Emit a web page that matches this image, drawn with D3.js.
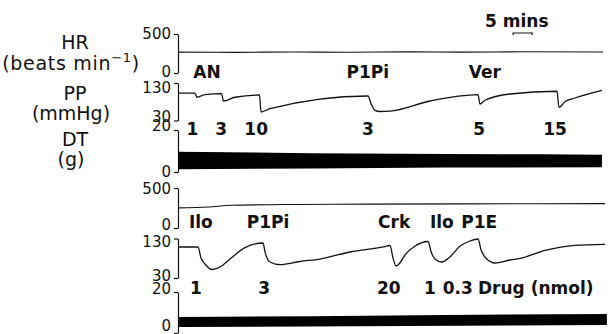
<!DOCTYPE html>
<html>
<head>
<meta charset="utf-8">
<script src="https://cdn.jsdelivr.net/npm/d3@7"></script>
<style>
  body { margin: 0; background: #fff; }
  svg { display: block; }
</style>
</head>
<body>
<svg id="chart" width="613" height="334"></svg>
<script>
const width = 613;
const height = 334;
const font = "'DejaVu Sans', sans-serif";
const ink = '#111';

// time is in minutes from the start of each record, [minutes, value]
const hrTop = [[0, 268], [15, 265], [30, 270], [45, 266], [60, 271], [75, 267], [90, 272], [111.5, 269]];
const ppTop = [
  [0, 103], [4.46, 103], [4.98, 92], [7.08, 99], [11.41, 101.5], [11.93, 82], [14.95, 92],
  [21.38, 98], [21.77, 52.7], [24.13, 61.5], [49.84, 95.3], [50.62, 75], [51.67, 57],
  [52.98, 54], [55.6, 55], [66.1, 82], [78.69, 99], [79.21, 74], [80.52, 84], [87.08, 100.7],
  [99.4, 108], [99.93, 65], [101.5, 80], [104.1, 90], [111.2, 110.5]
];
const dtTopHi = [[0, 9.6], [20, 9.3], [35, 8.9], [70, 8.6], [95, 8.4], [111.2, 8.2]];
const dtTopLo = [[0, 1.3], [35, 1.7], [70, 2.1], [111.2, 2.3]];

const hrBot = [[0, 252], [8, 262], [14, 284], [30, 294], [50, 298], [75, 302], [95, 304], [112, 305]];
const ppBot = [
  [0, 108.5], [5.25, 108.5], [6.03, 80.6], [7.08, 65.4], [8.92, 51.5], [11.02, 57.8],
  [13.64, 78], [17.57, 107], [22.3, 118.6], [22.82, 96], [24.13, 70.5], [26.76, 63.7],
  [32.0, 71.8], [37.25, 78], [45.12, 95.8], [54.3, 109.7], [55.6, 112.3], [56.4, 80.6],
  [57.2, 60.4], [58.2, 68], [59.5, 88.2], [62.2, 111], [65.6, 122.4], [66.4, 95.8],
  [67.4, 78], [69.2, 70.5], [71.3, 83.2], [74.0, 111], [76.6, 123.7], [78.7, 128.7],
  [79.5, 100.9], [81.0, 78], [83.1, 68], [87.1, 75.6], [89.7, 79.4], [96.3, 100],
  [104.1, 112.8], [112, 115.3]
];
const dtBotHi = [[0.3, 7.8], [35, 8.2], [70, 8.8], [112.5, 9.3]];
const dtBotLo = [[0.3, 2.9], [60, 3.4], [112.5, 3.9]];

// drug names and doses (nmol) with the time they are written at
const drugsTop = [['AN', 7.6], ['P1Pi', 49.8], ['Ver', 80.5]];
const dosesTop = [['1', 3.8], ['3', 11.3], ['10', 20.5], ['3', 49.8], ['5', 79.0], ['15', 98.9]];
const drugsBot = [['Ilo', 6.0], ['P1Pi', 23.6], ['Crk', 56.7], ['Ilo', 69.2], ['P1E', 79.0]];
const dosesBot = [['1', 4.7], ['3', 22.6], ['20', 55.3], ['1', 66.1], ['0.3', 73.4]];

const hrDomain = [0, 500];
const ppDomain = [30, 130];
const dtDomain = [0, 20];
const scaleBarMins = 5;

const svg = d3.select('#chart');

const x = d3.scaleLinear().domain([0, 112]).range([178, 605]);

const line = (xs, ys) => d3.line()
  .x(d => xs(d[0]))
  .y(d => ys(d[1]))
  .curve(d3.curveMonotoneX);

const panels = [
  {
    hr: hrTop, pp: ppTop, dtHi: dtTopHi, dtLo: dtTopLo, drugs: drugsTop, doses: dosesTop,
    yHR: [73, 34], yPP: [120.5, 83], yDT: [172, 130],
    nameY: 78, doseY: 135,
    nudge: { hr: [-1, 0], pp: [-3.5, 4.5], dt: [0, -4] }
  },
  {
    hr: hrBot, pp: ppBot, dtHi: dtBotHi, dtLo: dtBotLo, drugs: drugsBot, doses: dosesBot,
    yHR: [228, 188], yPP: [278, 238.5], yDT: [333, 292],
    nameY: 228, doseY: 294,
    nudge: { hr: [-3, 1], pp: [-2, 3.5], dt: [-7, -3] }
  }
];

function drawAxis(scale, nudge) {
  const g = svg.append('g')
    .attr('transform', `translate(${x(0)},0)`)
    .call(d3.axisLeft(scale).tickValues(scale.domain()).tickSize(4).tickSizeOuter(0).tickPadding(3));
  g.select('.domain').attr('stroke', ink).attr('stroke-width', 1.2);
  g.selectAll('.tick line').attr('stroke', ink).attr('stroke-width', 1.2);
  g.selectAll('.tick text')
    .attr('font-family', font)
    .attr('font-size', 15)
    .attr('fill', ink)
    .attr('y', (d, i) => nudge[i]);
}

panels.forEach(p => {
  const yHR = d3.scaleLinear().domain(hrDomain).range(p.yHR);
  const yPP = d3.scaleLinear().domain(ppDomain).range(p.yPP);
  const yDT = d3.scaleLinear().domain(dtDomain).range(p.yDT);

  drawAxis(yHR, p.nudge.hr);
  drawAxis(yPP, p.nudge.pp);
  drawAxis(yDT, p.nudge.dt);

  svg.append('path')
    .attr('d', line(x, yHR)(p.hr))
    .attr('fill', 'none')
    .attr('stroke', ink)
    .attr('stroke-width', 1.1);

  svg.append('path')
    .attr('d', line(x, yPP)(p.pp))
    .attr('fill', 'none')
    .attr('stroke', ink)
    .attr('stroke-width', 1.3);

  // developed tension: the beat-to-beat trace prints as a solid band
  const band = p.dtHi.concat(p.dtLo.slice().reverse());
  svg.append('path')
    .attr('d', d3.line().x(d => x(d[0])).y(d => yDT(d[1]))(band) + 'Z')
    .attr('fill', '#000');

  svg.append('g').selectAll('text')
    .data(p.drugs)
    .join('text')
    .attr('x', d => x(d[1]))
    .attr('y', p.nameY)
    .attr('text-anchor', 'middle')
    .attr('font-family', font)
    .attr('font-weight', 'bold')
    .attr('font-size', 17)
    .attr('fill', ink)
    .text(d => d[0]);

  svg.append('g').selectAll('text')
    .data(p.doses)
    .join('text')
    .attr('x', d => x(d[1]))
    .attr('y', p.doseY)
    .attr('text-anchor', 'middle')
    .attr('font-family', font)
    .attr('font-weight', 'bold')
    .attr('font-size', 17)
    .attr('fill', ink)
    .text(d => d[0]);
});

svg.append('text')
  .attr('x', 478)
  .attr('y', 294)
  .attr('font-family', font)
  .attr('font-weight', 'bold')
  .attr('font-size', 17)
  .attr('fill', ink)
  .text('Drug (nmol)');

// row titles on the left
const titles = [
  ['HR', 49], ['(beats min', 70], ['PP', 100], ['(mmHg)', 120], ['DT', 146], ['(g)', 166]
];
titles.forEach(([t, y], i) => {
  const txt = svg.append('text')
    .attr('x', i % 2 ? 71 : 75)
    .attr('y', y)
    .attr('text-anchor', 'middle')
    .attr('font-family', font)
    .attr('font-size', 19)
    .attr('fill', ink)
    .text(t);
  if (t === '(beats min') {
    txt.attr('letter-spacing', 0.7);
    txt.append('tspan').attr('font-size', 13).attr('dy', -8).text('−1');
    txt.append('tspan').attr('dy', 8).text(')');
  }
});

// 5 min time bar
const barStart = 87.9;
const bx0 = x(barStart);
const bx1 = x(barStart + scaleBarMins);
svg.append('path')
  .attr('d', `M${bx0},35V33H${bx1}V35`)
  .attr('fill', 'none')
  .attr('stroke', ink)
  .attr('stroke-width', 1.2);
svg.append('text')
  .attr('x', 485)
  .attr('y', 27)
  .attr('font-family', font)
  .attr('font-weight', 'bold')
  .attr('font-size', 17)
  .attr('fill', ink)
  .text('5 mins');
</script>
</body>
</html>
